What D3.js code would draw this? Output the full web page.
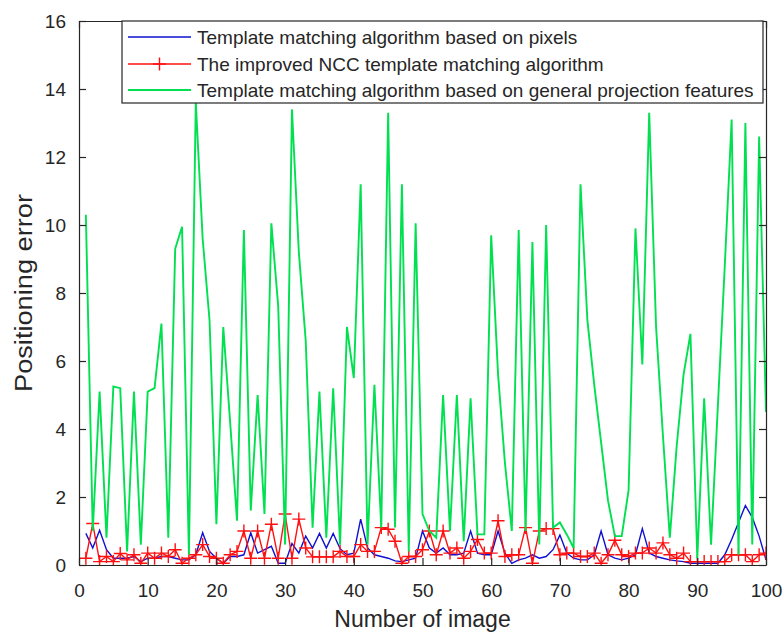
<!DOCTYPE html>
<html>
<head>
<meta charset="utf-8">
<script src="https://cdn.jsdelivr.net/npm/d3@7"></script>
<style>
  body { margin: 0; background: #fff; }
  text { font-family: "Liberation Sans", Arial, sans-serif; fill: #262626; }
</style>
</head>
<body>
<svg id="svgroot" width="784" height="632"></svg>
<script>
// data
var imageNo = d3.range(1, 101);

var pixelErr = [0.93,0.5,1.02,0.45,0.2,0.2,0.2,0.25,0.1,0.2,
  0.2,0.25,0.25,0.2,0.15,0.15,0.3,0.95,0.4,0.2,
  0.05,0.25,0.25,0.3,0.95,0.35,0.45,0.55,0.05,0.05,
  0.63,0.35,0.85,0.5,0.93,0.5,0.93,0.48,0.3,0.35,
  1.35,0.5,0.3,0.25,0.2,0.12,0.1,0.15,0.2,1.0,
  0.5,0.35,0.5,0.3,0.3,0.35,1.0,0.35,0.3,0.3,
  1.0,0.35,0.05,0.15,0.2,0.3,0.2,0.25,0.45,0.88,
  0.35,0.2,0.15,0.15,0.3,1.0,0.3,0.2,0.15,0.2,
  0.3,1.07,0.35,0.25,0.2,0.15,0.12,0.1,0.05,0.05,
  0.05,0.05,0.05,0.3,0.75,1.25,1.75,1.4,0.85,0.15];

var nccErr = [0.2,1.22,0.1,0.25,0.1,0.34,0.15,0.3,0.05,0.35,
  0.2,0.35,0.25,0.45,0.05,0.2,0.3,0.6,0.25,0.2,
  0.05,0.3,0.4,1.0,0.2,1.0,0.2,1.2,0.2,1.5,
  0.2,1.35,0.5,0.24,0.24,0.24,0.24,0.4,0.25,0.25,
  0.6,0.4,0.4,1.1,1.05,0.7,0.05,0.25,0.25,0.45,
  1.0,0.3,1.0,0.35,0.5,0.2,0.4,0.75,0.35,0.35,
  1.3,0.25,0.3,0.3,1.1,0.05,1.0,1.07,1.07,0.3,
  0.35,0.35,0.25,0.25,0.35,0.05,0.3,0.73,0.3,0.25,
  0.35,0.35,0.5,0.35,0.65,0.3,0.2,0.35,0.1,0.1,
  0.1,0.1,0.1,0.1,0.3,0.3,0.3,0.1,0.3,0.35];

var projErr = [10.3,1.0,5.1,0.8,5.25,5.2,0.4,5.1,0.6,5.1,
  5.2,7.1,0.8,9.3,9.95,0.3,13.6,9.6,7.2,1.2,
  7.0,4.2,1.3,9.85,1.6,5.0,1.5,10.05,7.6,0.6,
  13.4,9.2,6.6,1.1,5.1,0.8,5.2,0.6,7.0,5.5,
  11.2,0.6,5.3,1.1,13.3,1.1,11.2,0.4,10.05,1.5,
  1.0,0.8,5.0,1.0,5.0,0.7,4.9,0.9,0.9,9.7,
  5.6,3.0,1.0,9.85,1.0,9.5,0.6,10.0,1.1,1.25,
  0.9,0.5,11.2,7.2,5.3,3.6,1.9,0.85,0.85,2.2,
  9.9,5.9,13.3,7.0,3.8,0.8,3.5,5.6,6.8,0.2,
  4.9,0.6,4.7,8.8,13.1,0.3,13.0,0.6,12.6,4.5];

var xTicks = [0,10,20,30,40,50,60,70,80,90,100];
var yTicks = [0,2,4,6,8,10,12,14,16];

var legendNames = ["Template matching algorithm based on pixels",
  "The improved NCC template matching algorithm",
  "Template matching algorithm based on general projection features"];
var seriesColors = ["#1010d0", "#ff1010", "#00e050"];

// layout
var margin = {top: 21, right: 18, bottom: 67, left: 79};
var W = 784, H = 632;
var w = W - margin.left - margin.right;
var h = H - margin.top - margin.bottom;

var svg = d3.select("svg");
var g = svg.append("g").attr("transform", "translate(" + margin.left + "," + margin.top + ")");

var x = d3.scaleLinear().domain([0, 100]).range([0, w]);
var y = d3.scaleLinear().domain([0, 16]).range([h, 0]);

g.append("clipPath").attr("id", "clip")
  .append("rect").attr("width", w).attr("height", h);

var line = d3.line()
  .x(function(d){ return x(d[0]); })
  .y(function(d){ return y(d[1]); });

function pairs(vals){
  return imageNo.map(function(n, i){ return [n, vals[i]]; });
}

var plot = g.append("g").attr("clip-path", "url(#clip)");

// blue
plot.append("path").attr("d", line(pairs(pixelErr)))
  .attr("fill", "none").attr("stroke", seriesColors[0]).attr("stroke-width", 1.4);

// red with + markers
plot.append("path").attr("d", line(pairs(nccErr)))
  .attr("fill", "none").attr("stroke", seriesColors[1]).attr("stroke-width", 1.4);
function plusPath(s){
  return "M" + (-s) + ",0H" + s + "M0," + (-s) + "V" + s;
}
plot.selectAll(".mk").data(pairs(nccErr)).enter().append("path")
  .attr("class", "mk")
  .attr("transform", function(d){ return "translate(" + x(d[0]) + "," + y(d[1]) + ")"; })
  .attr("d", plusPath(6.5))
  .attr("fill", "none").attr("stroke", seriesColors[1]).attr("stroke-width", 1.4);

// green
plot.append("path").attr("d", line(pairs(projErr)))
  .attr("fill", "none").attr("stroke", seriesColors[2]).attr("stroke-width", 1.9);

// axes, matlab style box w/ inward ticks
var axisCol = "#262626";
var xb = g.append("g").attr("transform", "translate(0," + h + ")")
  .call(d3.axisBottom(x).tickValues(xTicks).tickSizeInner(-7).tickSizeOuter(0).tickPadding(19));
var xt = g.append("g")
  .call(d3.axisTop(x).tickValues(xTicks).tickSizeInner(-7).tickSizeOuter(0).tickFormat(""));
var yl = g.append("g")
  .call(d3.axisLeft(y).tickValues(yTicks).tickSizeInner(-7).tickSizeOuter(0).tickPadding(13));
var yr = g.append("g").attr("transform", "translate(" + w + ",0)")
  .call(d3.axisRight(y).tickValues(yTicks).tickSizeInner(-7).tickSizeOuter(0).tickFormat(""));

[xb, xt, yl, yr].forEach(function(a){
  a.selectAll("path, line").attr("stroke", axisCol).attr("stroke-width", 1.2);
  a.selectAll("text").attr("font-size", 19).attr("fill", "#333")
    .style("font-family", "'Liberation Sans', Arial, sans-serif");
});

// axis labels
g.append("text").attr("x", w / 2).attr("y", h + 62)
  .attr("text-anchor", "middle").attr("font-size", 23)
  .text("Number of image");
g.append("text")
  .attr("transform", "translate(" + (-47) + "," + (h / 2) + ") rotate(-90)")
  .attr("text-anchor", "middle").attr("font-size", 23)
  .attr("textLength", 198).attr("lengthAdjust", "spacingAndGlyphs")
  .text("Positioning error");

// legend
var lg = g.append("g").attr("transform", "translate(" + (122 - margin.left) + ",0)");
lg.append("rect").attr("width", 641).attr("height", 82)
  .attr("fill", "#fff").attr("stroke", axisCol).attr("stroke-width", 1.2);
var rowY = [16, 43, 69];
legendNames.forEach(function(name, i){
  var r = lg.append("g").attr("transform", "translate(0," + rowY[i] + ")");
  r.append("line").attr("x1", 6).attr("x2", 69)
    .attr("stroke", seriesColors[i]).attr("stroke-width", i == 2 ? 1.9 : 1.4);
  if(i == 1){
    r.append("path").attr("transform", "translate(37.5,0)").attr("d", plusPath(6.5))
      .attr("fill", "none").attr("stroke", seriesColors[1]).attr("stroke-width", 1.4);
  }
  r.append("text").attr("x", 75).attr("dy", "0.35em").attr("font-size", 19)
    .text(name);
});
</script>
</body>
</html>
